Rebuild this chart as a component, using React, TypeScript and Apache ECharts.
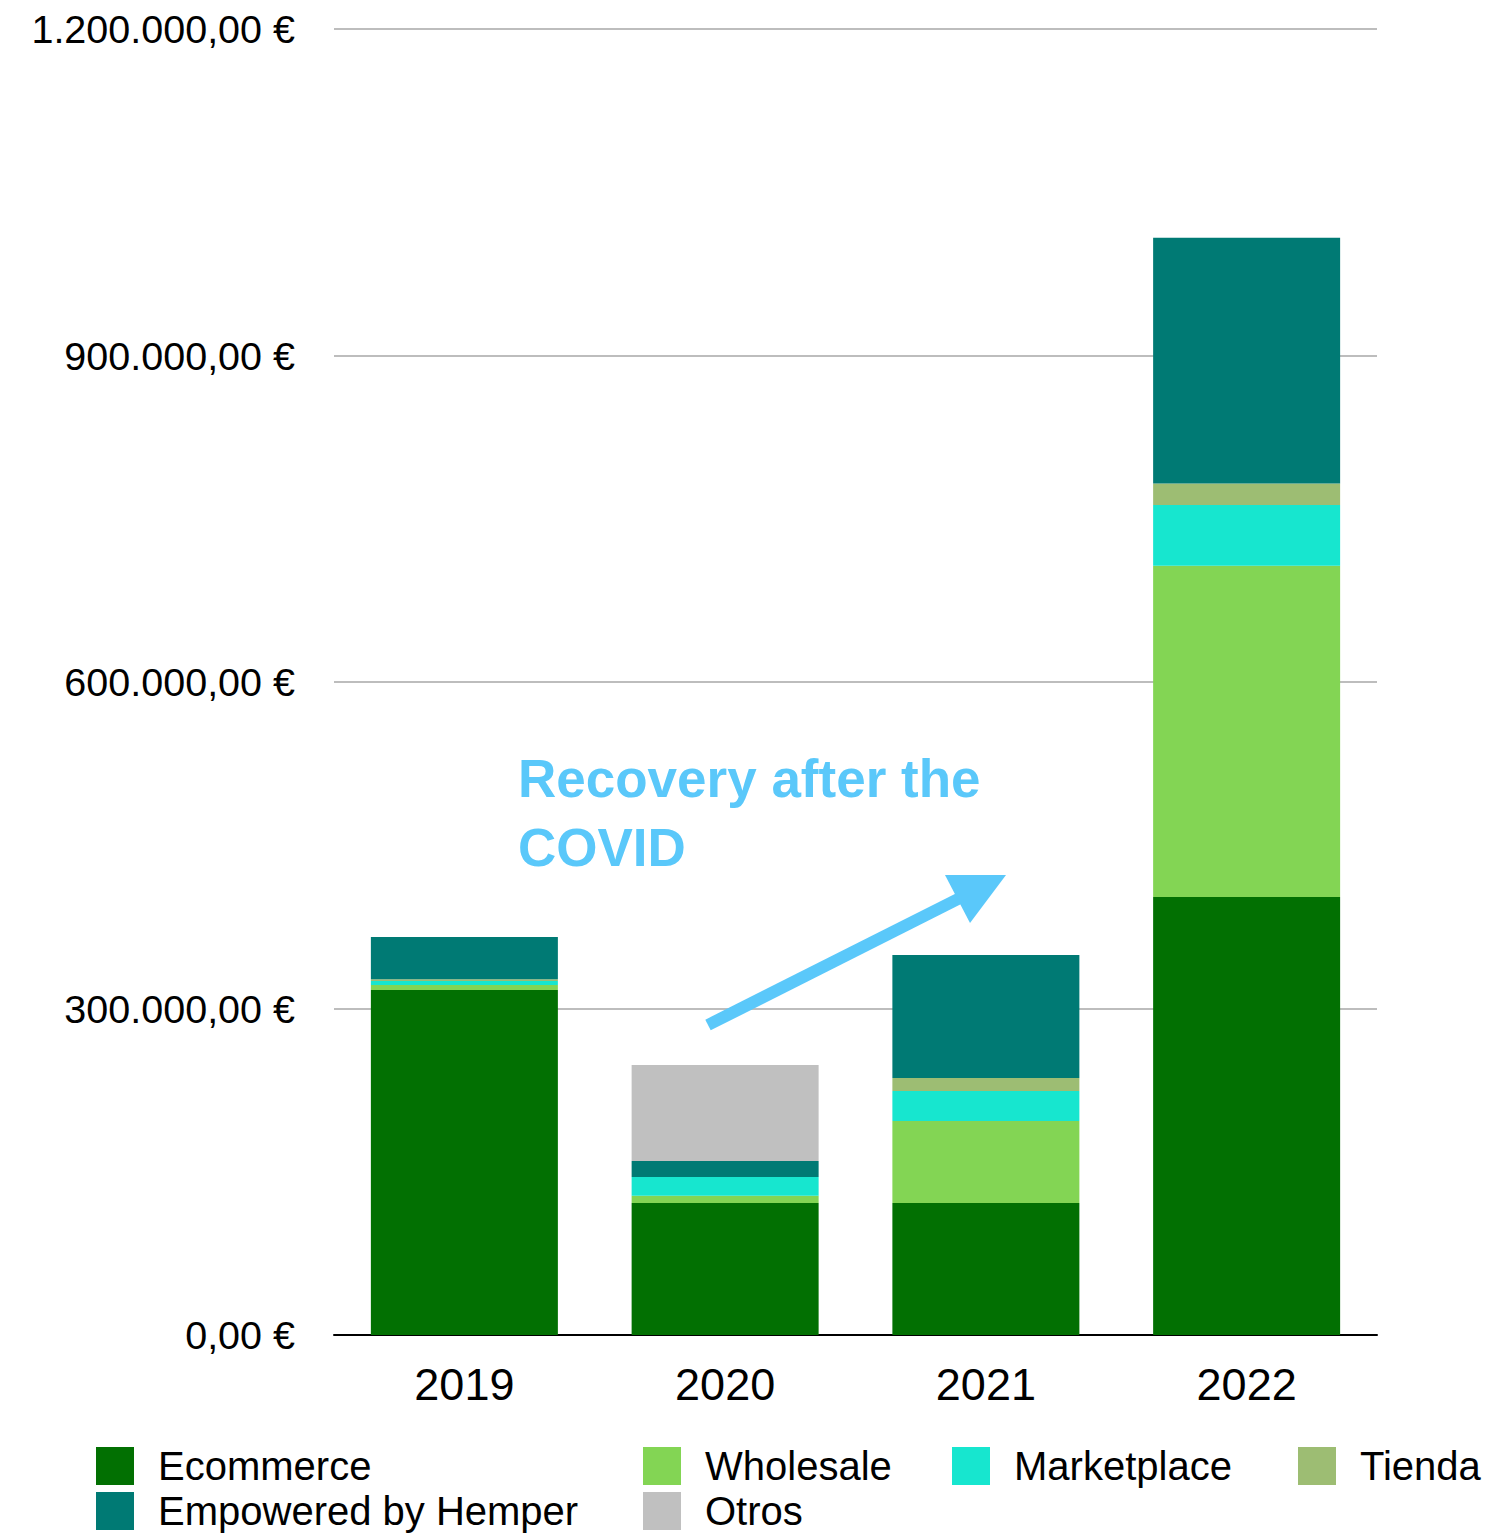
import React, { useEffect, useRef } from "react";
import * as echarts from "echarts";

const years = ["2019", "2020", "2021", "2022"];
const ecommerce = [317000, 121300, 121300, 402500];
const wholesale = [4600, 6700, 75300, 304400];
const marketplace = [3700, 17200, 27600, 55800];
const tienda = [1600, 0, 11900, 19600];
const empowered = [38900, 14700, 113000, 225800];
const otros = [0, 88200, 0, 0];

const seriesNames = ["Ecommerce", "Wholesale", "Marketplace", "Tienda", "Empowered by Hemper", "Otros"];
const seriesData = [ecommerce, wholesale, marketplace, tienda, empowered, otros];
const seriesColors = ["#027002", "#83d554", "#17e6cf", "#9dbd73", "#007a74", "#c0c0c0"];

const annotationLines = ["Recovery after the", "COVID"];

const FONT = "'Liberation Sans', Arial, Helvetica, sans-serif";

function fmtEuro(v: number): string {
  const s = Math.round(v).toString().replace(/\B(?=(\d{3})+(?!\d))/g, ".");
  return s + ",00 €";
}

export default function App() {
  const ref = useRef<HTMLDivElement>(null);
  useEffect(() => {
    if (!ref.current) return;
    const chart = echarts.init(ref.current, null, { renderer: "svg" });
    const legendPos = [
      { left: 96, top: 1446 },
      { left: 643, top: 1446 },
      { left: 952, top: 1446 },
      { left: 1298, top: 1446 },
      { left: 96, top: 1491 },
      { left: 643, top: 1491 },
    ];
    chart.setOption({
      animation: false,
      grid: { left: 334, right: 110, top: 29, bottom: 199, containLabel: false },
      legend: seriesNames.map((n, i) => ({
        data: [n],
        left: legendPos[i].left,
        top: legendPos[i].top,
        padding: 0,
        itemWidth: 38,
        itemHeight: 38,
        icon: "rect",
        selectedMode: false,
        textStyle: { fontSize: 40, color: "#000", fontFamily: FONT, padding: [0, 0, 0, 19] },
      })),
      xAxis: {
        type: "category",
        data: years,
        axisLine: { show: true, lineStyle: { color: "#000", width: 2 } },
        axisTick: { show: false },
        axisLabel: { fontSize: 45, color: "#000", fontFamily: FONT, margin: 27 },
      },
      yAxis: {
        type: "value",
        min: 0,
        max: 1200000,
        interval: 300000,
        axisLine: { show: false },
        axisTick: { show: false },
        splitLine: { lineStyle: { color: "#bdbdbd", width: 2 } },
        axisLabel: {
          fontSize: 39.5,
          color: "#000",
          fontFamily: FONT,
          margin: 39,
          formatter: (v: number) => fmtEuro(v),
        },
      },
      series: seriesNames.map((n, i) => ({
        name: n,
        type: "bar",
        stack: "total",
        barWidth: 187,
        data: seriesData[i],
        itemStyle: { color: seriesColors[i] },
      })),
      graphic: [
        {
          type: "text",
          left: 518,
          top: 752,
          style: {
            text: annotationLines[0],
            font: `bold 53px ${FONT}`,
            fill: "#5ac8fa",
          },
          z: 100,
        },
        {
          type: "text",
          left: 518,
          top: 821,
          style: {
            text: annotationLines[1],
            font: `bold 53px ${FONT}`,
            fill: "#5ac8fa",
          },
          z: 100,
        },
        {
          type: "line",
          shape: { x1: 708, y1: 1025, x2: 960, y2: 898 },
          style: { stroke: "#5ac8fa", lineWidth: 12 },
          z: 100,
        },
        {
          type: "polygon",
          shape: { points: [[945, 875], [1006, 875], [970, 923]] },
          style: { fill: "#5ac8fa" },
          z: 100,
        },
      ],
    });
    return () => chart.dispose();
  }, []);
  return (
    <div
      ref={ref}
      style={{ position: "absolute", left: 0, top: 0, width: 1487, height: 1534, background: "#fff" }}
    />
  );
}
